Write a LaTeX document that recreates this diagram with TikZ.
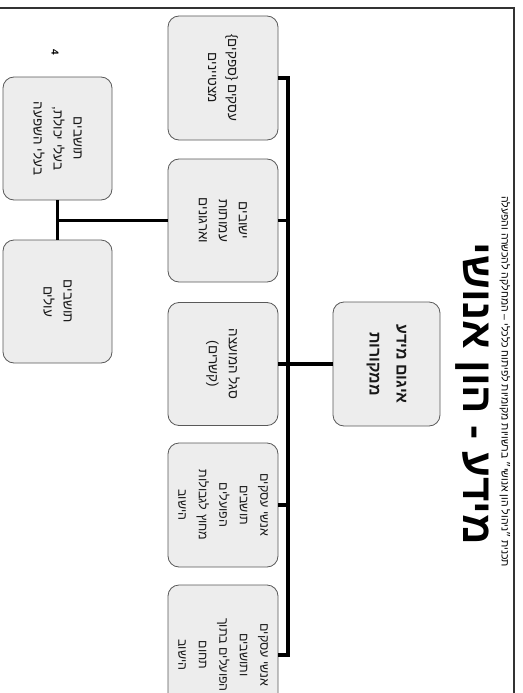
\documentclass[tikz,border=0pt]{standalone}
\usepackage{fontspec}
\setmainfont{Liberation Sans}
\newfontfamily\hebfont[Script=Hebrew]{Liberation Sans}
\TeXXeTstate=1
\begin{document}
\begin{tikzpicture}[x=1pt,y=-1pt,
  box/.style={draw=black!65, line width=0.8pt, fill=black!7, rounded corners=11pt,
    rotate=-90, align=center, inner sep=2pt, text=black!90,
    font=\hebfont\fontsize{13.5}{20}\selectfont},
  conn/.style={line width=3.2pt, black},
  lbl/.style={rotate=-90, inner sep=0pt}]
\useasboundingbox (0,0) rectangle (522,693);
\fill[white] (0,0) rectangle (522,693);
% slide frame
\draw[line width=1.2pt, black!80] (0,8) -- (514,8) -- (514,693);

% title and subtitle
\node[lbl, font=\hebfont\bfseries\fontsize{42}{44}\selectfont] (title) at (472,394) {\beginR מידע - הון אנושי\endR};
\node[lbl, anchor=west, font=\hebfont\fontsize{10.5}{12}\selectfont] (sub) at (505,196) {\beginR תכנית ״ניהול הון אנושי״ ברשויות מקומיות לפיתוח כלכלי – המחלקה להכשרה והפעלה\endR};
\node[lbl, font=\bfseries\fontsize{10}{11}\selectfont] (pnum) at (55,52) {4};

% centre box
\node[box, minimum width=124pt, minimum height=107pt, font=\hebfont\bfseries\fontsize{16}{27}\selectfont] (c) at (386.5,364) {\beginR איגום מידע\endR\\ \beginR ממקורות\endR};

% row of source boxes
\node[box, minimum width=124pt, minimum height=110pt] (b1) at (223,78)
  {\}\beginR ספקים\endR\{ \beginR עסקים\endR\\ \beginR מצטיינים\endR};
\node[box, minimum width=123pt, minimum height=110pt] (b2) at (223,220.5)
  {\beginR ישובים\endR\\ \beginR עמותות\endR\\ \beginR וארגונים\endR};
\node[box, minimum width=123pt, minimum height=110pt] (b3) at (223,364)
  {\beginR סגל המועצה\endR\\ )\beginR קשרים\endR(};
\node[box, minimum width=124pt, minimum height=110pt, font=\hebfont\fontsize{12.5}{20.5}\selectfont] (b4) at (223,505)
  {\beginR אנשי עסקים\endR\\ \beginR תושבים\endR\\ \beginR הפועלים\endR\\ \beginR מחוץ לגבולות\endR\\ \beginR הישוב\endR};
\node[box, minimum width=140pt, minimum height=110pt, font=\hebfont\fontsize{12.5}{20.5}\selectfont] (b5) at (223,655)
  {\beginR אנשי עסקים\endR\\ \beginR ותושבים\endR\\ \beginR הפועלים בתוך\endR\\ \beginR תחום\endR\\ \beginR הישוב\endR};

% lower boxes
\node[box, minimum width=123pt, minimum height=109pt] (l1) at (57.5,138.5)
  {\beginR תושבים\endR\\ \beginR בעלי יכולת,\endR\\ \beginR בעלי השפעה\endR};
\node[box, minimum width=123pt, minimum height=109pt] (l2) at (57.5,301.5)
  {\beginR תושבים\endR\\ \beginR עולים\endR};

% connectors
\coordinate (bus) at (288,0);
\draw[conn] (b1.north) -- (b1.north -| bus) |- (b5.north);
\draw[conn] (b2.north) -- (b2.north -| bus);
\draw[conn] (b4.north) -- (b4.north -| bus);
\draw[conn] (b3.north) -- (c.south);
\draw[conn] (b2.south) -- (b2.south -| l1.east);
\draw[conn] (l1.east) -- (l2.west);
\end{tikzpicture}
\end{document}
